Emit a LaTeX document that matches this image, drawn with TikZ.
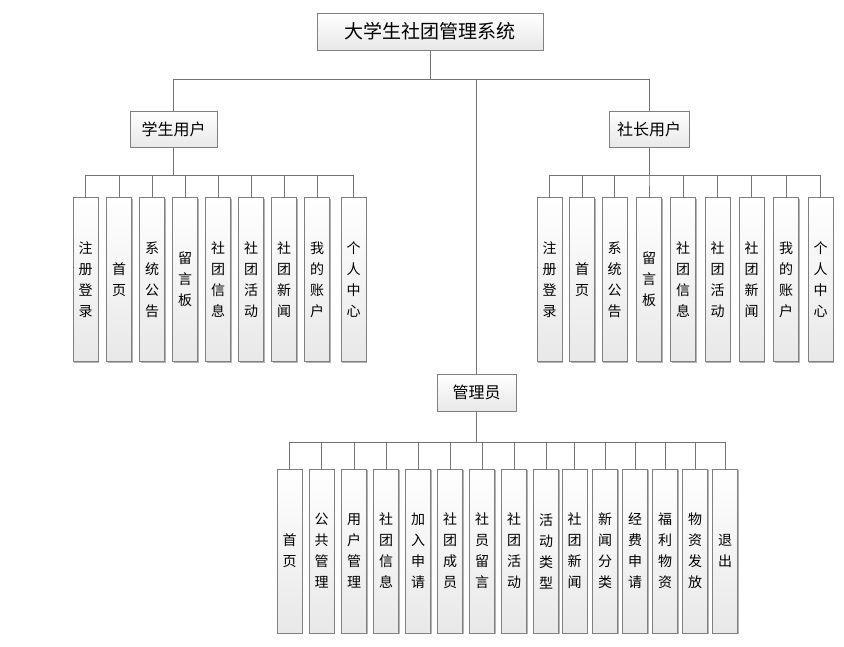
\documentclass[tikz,border=0pt]{standalone}
\usepackage{fontspec}
\newfontfamily\cjk{Noto Sans CJK SC}
\usetikzlibrary{shadows}

\begin{document}
\begin{tikzpicture}[
  x=1pt, y=-1pt,
  font=\cjk,
  box/.style={draw=black!50, line width=1pt, top color=white, bottom color=black!9,
    drop shadow={shadow xshift=1.2pt, shadow yshift=-1.2pt, fill=black!50, opacity=0.6},
    inner sep=0pt, align=center},
  head/.style={box, minimum height=36, font=\cjk\fontsize{16}{20}\selectfont},
  leaf/.style={box, minimum width=25, minimum height=164, font=\cjk\fontsize{14}{21}\selectfont},
  wire/.style={draw=black!55, line width=0.9pt},
]
\useasboundingbox (0,0) rectangle (844,646);
% Top of the tree.
\node[box, minimum width=226, minimum height=37, font=\cjk\fontsize{19}{22}\selectfont] (sys) at (430,31.5) {大学生社团管理系统};
\node[head, minimum width=87] (stu) at (173.5,129) {学生用户};
\node[head, minimum width=80] (lead) at (649,129) {社长用户};
\node[head, minimum width=79, minimum height=37] (adm) at (476.5,392.5) {管理员};
\coordinate (topbus) at (0,79);
\draw[wire] (sys.south) -- (sys.south |- topbus) -| (stu.north);
\draw[wire] (sys.south) -- (sys.south |- topbus) -| (lead.north);
\draw[wire] (sys.south) -- (sys.south |- topbus) -| (adm.north);
% Student user.
\coordinate (stubus) at (0,175);
\foreach \x/\t [count=\i] in {85.5/{注\\册\\登\\录}, 119/{首\\页}, 152/{系\\统\\公\\告},
    185/{留\\言\\板}, 218/{社\\团\\信\\息}, 251/{社\\团\\活\\动}, 284/{社\\团\\新\\闻},
    317/{我\\的\\账\\户}, 353.5/{个\\人\\中\\心}} {
  \node[leaf] (stu\i) at (\x,279.5) {\t};
  \draw[wire] (stu.south) -- (stu.south |- stubus) -| (stu\i.north);
}
% Club leader.
\coordinate (leadbus) at (0,175);
\foreach \x/\t [count=\i] in {549.5/{注\\册\\登\\录}, 582/{首\\页}, 614.5/{系\\统\\公\\告},
    649/{留\\言\\板}, 683/{社\\团\\信\\息}, 717.5/{社\\团\\活\\动}, 751.5/{社\\团\\新\\闻},
    786/{我\\的\\账\\户}, 820.5/{个\\人\\中\\心}} {
  \node[leaf] (lead\i) at (\x,279.5) {\t};
  \draw[wire] (lead.south) -- (lead.south |- leadbus) -| (lead\i.north);
}
% Administrator.
\coordinate (admbus) at (0,442);
\foreach \x/\t [count=\i] in {289.5/{首\\页}, 321.5/{公\\共\\管\\理}, 354/{用\\户\\管\\理},
    386/{社\\团\\信\\息}, 418/{加\\入\\申\\请}, 450/{社\\团\\成\\员}, 482/{社\\员\\留\\言},
    514/{社\\团\\活\\动}, 546/{活\\动\\类\\型}, 574.5/{社\\团\\新\\闻}, 605/{新\\闻\\分\\类},
    635/{经\\费\\申\\请}, 665/{福\\利\\物\\资}, 695/{物\\资\\发\\放}, 725/{退\\出}} {
  \node[leaf] (adm\i) at (\x,551) {\t};
  \draw[wire] (adm.south) -- (adm.south |- admbus) -| (adm\i.north);
}
\end{tikzpicture}
\end{document}
